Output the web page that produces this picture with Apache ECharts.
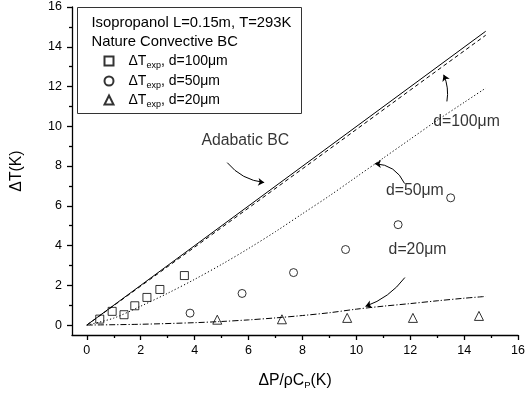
<!DOCTYPE html>
<html>
<head>
<meta charset="utf-8">
<script src="https://cdn.jsdelivr.net/npm/echarts@6/dist/echarts.min.js"></script>
<style>
  html, body { margin: 0; padding: 0; background: #fff; }
  #main { width: 528px; height: 395px; }
</style>
</head>
<body>
<div id="main"></div>
<script>
// tick positions
const xTicks = [0, 2, 4, 6, 8, 10, 12, 14, 16];
const xMinor = [1, 3, 5, 7, 9, 11, 13, 15];
const yTicks = [0, 2, 4, 6, 8, 10, 12, 14, 16];
const yMinor = [1, 3, 5, 7, 9, 11, 13, 15];

// model curves [dP/rhoCp, dT]
const adiabatic = [[0, 0], [14.8, 14.78]];
const curve100 = [[0, 0], [2, 1.96], [4, 3.92], [6, 5.89], [8, 7.86], [10, 9.84], [12, 11.82], [14.8, 14.58]];
const curve50 = [[0, 0], [1, 0.35], [2, 0.95], [3, 1.6], [4, 2.3], [5, 3.05], [6, 3.85], [7, 4.7],
  [8, 5.6], [9, 6.5], [10, 7.45], [11, 8.4], [12, 9.35], [13, 10.3], [14, 11.2], [14.8, 11.92]];
const curve20 = [[0, 0], [2, 0.04], [4, 0.12], [5, 0.18], [6, 0.26], [7, 0.36], [8, 0.48], [9, 0.62],
  [10, 0.8], [11, 0.95], [12, 1.08], [13, 1.22], [14, 1.35], [14.8, 1.44]];

// experiments
const exp100 = [[0.48, 0.3], [0.94, 0.69], [1.38, 0.52], [1.78, 0.97], [2.23, 1.39], [2.71, 1.79], [3.62, 2.49]];
const exp50 = [[3.83, 0.6], [5.76, 1.59], [7.67, 2.64], [9.6, 3.8], [11.55, 5.05], [13.5, 6.4]];
const exp20 = [[4.84, 0.27], [7.24, 0.29], [9.66, 0.36], [12.1, 0.36], [14.55, 0.46]];

// annotations: text and arrows (data coords)
const noteText = [
  { name: 'Adabatic BC', value: [5.88, 9.29] },
  { name: 'd=100μm', value: [14.09, 10.24] },
  { name: 'd=50μm', value: [12.17, 6.74] },
  { name: 'd=20μm', value: [12.27, 3.8] }
];
const noteArrows = [
  { coords: [[5.21, 8.17], [6.58, 7.17]], curve: -0.2 },
  { coords: [[13.36, 11.25], [13.24, 12.59]], curve: -0.15 },
  { coords: [[11.79, 7.12], [10.69, 8.12]], curve: -0.3 },
  { coords: [[11.8, 2.39], [10.34, 0.94]], curve: 0.15 }
];

const FONT = '"Liberation Sans", Arial, sans-serif';
const BIG = 15.8;
const BOX = 14.8;

const legendNames = {
  d100: 'd=100μm',
  d50: 'd=50μm',
  d20: 'd=20μm'
};

const richText = {
  g: { width: 10 },
  m: { fontSize: 14, fontFamily: FONT, color: '#000', lineHeight: 18 },
  s: { fontSize: 9, fontFamily: FONT, color: '#000', padding: [9, 0, 0, 0] }
};

function oneLegend(name, top) {
  return {
    data: [name],
    left: 103.5,
    top: top,
    padding: 0,
    itemWidth: 9,
    itemHeight: 9,
    selectedMode: false,
    formatter: (n) => '{g| }{m|ΔT}{s|exp}{m|, ' + legendNames[n] + '}',
    textStyle: { rich: richText }
  };
}

const chart = echarts.init(document.getElementById('main'));

const option = {
  animation: false,
  backgroundColor: '#fff',
  textStyle: { fontFamily: FONT },
  grid: { left: 72, right: 8, top: 7, bottom: 59 },
  legend: [oneLegend('d100', 54), oneLegend('d50', 74), oneLegend('d20', 93)],
  graphic: [
    {
      type: 'rect',
      shape: { x: 77.5, y: 7.5, width: 224, height: 106 },
      style: { fill: 'none', stroke: '#333', lineWidth: 1 }
    },
    {
      type: 'text', left: 91.5, top: 15,
      style: { text: 'Isopropanol L=0.15m, T=293K', font: BOX + 'px ' + FONT, fill: '#000' }
    },
    {
      type: 'text', left: 91.5, top: 34,
      style: { text: 'Nature Convective BC', font: BOX + 'px ' + FONT, fill: '#000' }
    }
  ],
  xAxis: [
    {
      type: 'value', min: -0.55, max: 16, position: 'bottom',
      axisLine: { onZero: false, lineStyle: { color: '#000', width: 1.3 } },
      axisTick: { show: true, customValues: xTicks, length: 5, lineStyle: { color: '#000', width: 1.3 } },
      axisLabel: { customValues: xTicks, color: '#000', fontSize: 12.5, margin: 9 },
      splitLine: { show: false },
      name: '{a|ΔP/ρC}{s|P}{a|(K)}',
      nameLocation: 'middle',
      nameGap: 36,
      nameTextStyle: {
        rich: {
          a: { fontSize: BIG, fontFamily: FONT, color: '#000', lineHeight: 18 },
          s: { fontSize: 9.5, fontFamily: FONT, color: '#000', padding: [9, 0, 0, 0] }
        }
      }
    },
    {
      type: 'value', min: -0.55, max: 16, position: 'bottom',
      axisLine: { show: false, onZero: false },
      axisTick: { show: true, customValues: xMinor, length: 3, lineStyle: { color: '#000', width: 1.3 } },
      axisLabel: { show: false },
      splitLine: { show: false }
    }
  ],
  yAxis: [
    {
      type: 'value', min: -0.5, max: 16, position: 'left',
      axisLine: { show: true, onZero: false, lineStyle: { color: '#000', width: 1.3 } },
      axisTick: { show: true, customValues: yTicks, length: 5, lineStyle: { color: '#000', width: 1.3 } },
      axisLabel: { customValues: yTicks, color: '#000', fontSize: 12.5, margin: 10 },
      splitLine: { show: false },
      name: 'ΔT(K)',
      nameLocation: 'middle',
      nameGap: 47,
      nameTextStyle: { fontSize: BIG, color: '#000', fontFamily: FONT }
    },
    {
      type: 'value', min: -0.5, max: 16, position: 'left',
      axisLine: { show: false, onZero: false },
      axisTick: { show: true, customValues: yMinor, length: 3, lineStyle: { color: '#000', width: 1.3 } },
      axisLabel: { show: false },
      splitLine: { show: false }
    }
  ],
  series: [
    {
      name: 'adiabatic', type: 'line', data: adiabatic, symbol: 'none', silent: true,
      lineStyle: { color: '#000', width: 1 }
    },
    {
      name: 'c100', type: 'line', data: curve100, symbol: 'none', silent: true,
      lineStyle: { color: '#000', width: 1, type: [4, 3] }
    },
    {
      name: 'c50', type: 'line', data: curve50, symbol: 'none', silent: true, smooth: 0.3,
      lineStyle: { color: '#000', width: 1, type: [1.2, 2.2] }
    },
    {
      name: 'c20', type: 'line', data: curve20, symbol: 'none', silent: true, smooth: 0.3,
      lineStyle: { color: '#000', width: 1, type: [6, 2, 1.2, 2] }
    },
    {
      name: 'd100', type: 'scatter', data: exp100, symbol: 'rect', symbolSize: 8,
      itemStyle: { color: '#fff', borderColor: '#000', borderWidth: 1 }
    },
    {
      name: 'd50', type: 'scatter', data: exp50, symbol: 'circle', symbolSize: 8,
      itemStyle: { color: '#fff', borderColor: '#000', borderWidth: 1 }
    },
    {
      name: 'd20', type: 'scatter', data: exp20, symbol: 'triangle', symbolSize: 9,
      itemStyle: { color: '#fff', borderColor: '#000', borderWidth: 1 }
    },
    {
      name: 'notes', type: 'scatter', data: noteText, symbolSize: 0, silent: true,
      label: {
        show: true, position: 'inside', formatter: (p) => p.name,
        fontSize: BIG, fontFamily: FONT, color: '#000'
      }
    },
    {
      name: 'arrows', type: 'lines', coordinateSystem: 'cartesian2d', silent: true,
      symbol: ['none', 'arrow'], symbolSize: 6,
      data: noteArrows.map((a) => ({ coords: a.coords, lineStyle: { curveness: a.curve } })),
      lineStyle: { color: '#000', width: 1, opacity: 1 }
    }
  ]
};

chart.setOption(option);
</script>
</body>
</html>
